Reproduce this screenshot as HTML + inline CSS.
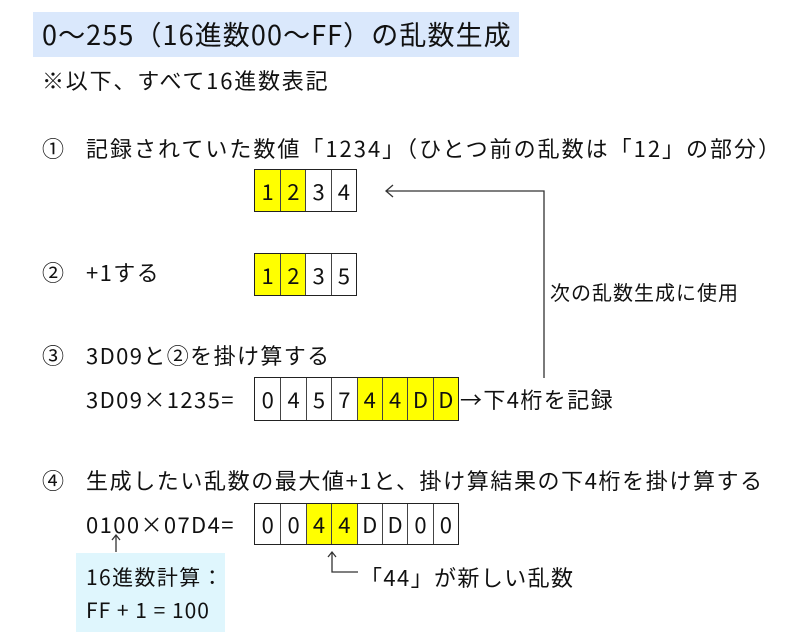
<!DOCTYPE html>
<html><head><meta charset="utf-8"><style>
body{margin:0;width:800px;height:640px;background:#fff;position:relative;overflow:hidden;font-family:"Noto Sans CJK JP","Liberation Sans",sans-serif;color:#111}
.t{position:absolute;white-space:nowrap;font-size:22px;line-height:26px;letter-spacing:1.4px}
.cells{position:absolute;display:flex;border:1.5px solid #222;box-sizing:border-box}
.cells div{width:25.6px;border-left:1px solid #444;box-sizing:border-box;text-align:center;font-size:22px;display:flex;align-items:center;justify-content:center}
.cells div:first-child{border-left:none}
.y{background:#ffff00}
</style></head><body>
<div style="position:absolute;left:33px;top:12px;width:486px;height:45px;background:#dae8fc"></div>
<div class="t" style="left:42px;top:16px;font-size:27px;line-height:36px;letter-spacing:1.1px">0～255（16進数00～FF）の乱数生成</div>
<div class="t" style="left:42px;top:66px;font-size:22px;line-height:28px;letter-spacing:1.8px">※以下、すべて16進数表記</div>

<div class="t" style="left:42px;top:135px">①</div>
<div class="t" style="left:86px;top:135px;letter-spacing:2px">記録されていた数値「1234」（ひとつ前の乱数は「12」の部分）</div>
<div class="cells" style="left:254px;top:169px;width:103px;height:43px"><div class="y">1</div><div class="y">2</div><div>3</div><div>4</div></div>

<div class="t" style="left:42px;top:259px">②</div>
<div class="t" style="left:86px;top:259px">+1する</div>
<div class="cells" style="left:254px;top:253px;width:103px;height:43px"><div class="y">1</div><div class="y">2</div><div>3</div><div>5</div></div>

<div class="t" style="left:42px;top:342px">③</div>
<div class="t" style="left:86px;top:342px">3D09と②を掛け算する</div>
<div class="t" style="left:86px;top:386px">3D09×1235=</div>
<div class="cells" style="left:254px;top:377px;width:205px;height:44px"><div>0</div><div>4</div><div>5</div><div>7</div><div class="y">4</div><div class="y">4</div><div class="y">D</div><div class="y">D</div></div>
<div class="t" style="left:460px;top:386px">→下4桁を記録</div>

<div class="t" style="left:42px;top:467px">④</div>
<div class="t" style="left:86px;top:467px;letter-spacing:1.6px">生成したい乱数の最大値+1と、掛け算結果の下4桁を掛け算する</div>
<div class="t" style="left:86px;top:511px">0100×07D4=</div>
<div class="cells" style="left:254px;top:503px;width:205px;height:42px"><div>0</div><div>0</div><div class="y">4</div><div class="y">4</div><div>D</div><div>D</div><div>0</div><div>0</div></div>

<div style="position:absolute;left:76px;top:553px;width:149px;height:79px;background:#dff6fd"></div>
<div class="t" style="left:86px;top:564px;font-size:21px;letter-spacing:1.4px">16進数計算：</div>
<div class="t" style="left:86px;top:597px;font-size:21px;letter-spacing:1px">FF + 1 = 100</div>
<div class="t" style="left:360px;top:564px">「44」が新しい乱数</div>
<div class="t" style="left:550px;top:279px;font-size:20px;letter-spacing:1px">次の乱数生成に使用</div>

<svg width="800" height="640" style="position:absolute;left:0;top:0" fill="none" stroke="#333" stroke-width="1.3">
<polyline points="544,378 544,191 386,191"/>
<polyline points="393,185 386,191 393,197"/>
<line x1="116" y1="552" x2="116" y2="535"/>
<polyline points="112,540 116,535 120,540"/>
<polyline points="332,552 332,572 358,572"/>
<polyline points="328,557 332,552 336,557"/>
</svg>
</body></html>
